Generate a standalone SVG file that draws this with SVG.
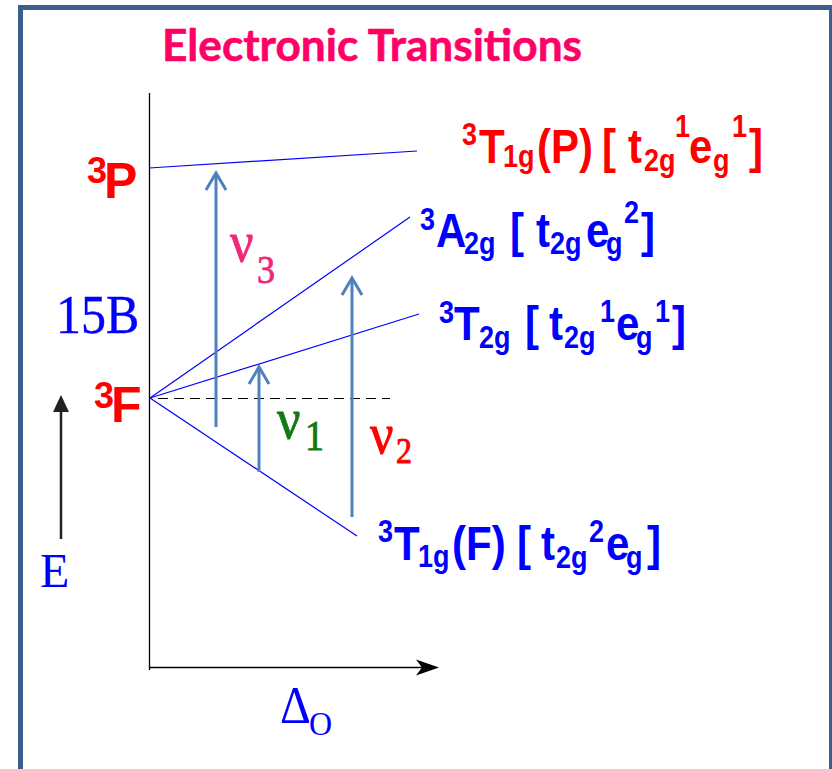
<svg xmlns="http://www.w3.org/2000/svg" width="832" height="769" viewBox="0 0 832 769">
<style>
.lab{font-family:"Liberation Sans",Arial,sans-serif;font-weight:bold}
.big{font-size:42px}
.sm{font-size:27px}
.ser{font-family:"Liberation Serif","Times New Roman",serif}
.lvl{stroke:#0000FF;stroke-width:1.2;fill:none}
.tr{stroke:#4F81BD;stroke-width:3;fill:none}
</style>
<defs>
<marker id="chev" markerUnits="userSpaceOnUse" viewBox="-20 -13 23 26" refX="0" refY="0" markerWidth="23" markerHeight="26" orient="auto">
<path d="M-17,-10 L0,0 L-17,10" fill="none" stroke="#4F81BD" stroke-width="3"/>
</marker>
</defs>
<rect x="0" y="0" width="832" height="769" fill="#FFFFFF"/>
<rect x="20.5" y="7.5" width="811" height="800" fill="#FFFFFF" stroke="#3B5E8C" stroke-width="5"/>
<g id="title">
<text x="162" y="61" font-family="Lato,'Open Sans',sans-serif" font-weight="bold" font-size="44" fill="#FF0066" textLength="420" lengthAdjust="spacingAndGlyphs" stroke="#FF0066" stroke-width="0.6">Electronic Transitions</text>
</g>
<g id="axes">
<line x1="149.5" y1="93" x2="149.5" y2="670" stroke="#000" stroke-width="1.3"/>
<line x1="149" y1="667.5" x2="425" y2="667.5" stroke="#000" stroke-width="1.5"/>
<path d="M439,667.5 L416,659.5 L422,667.5 L416,675.5 Z" fill="#000"/>
<line x1="61" y1="539" x2="61" y2="410" stroke="#222" stroke-width="2.5"/>
<path d="M61,395 L69,412 L53,412 Z" fill="#222"/>
</g>
<g id="connectors">
<line class="lvl" x1="149" y1="168" x2="417" y2="151"/>
<line class="lvl" x1="150" y1="398" x2="410" y2="217"/>
<line class="lvl" x1="150" y1="398" x2="419" y2="314"/>
<line class="lvl" x1="150" y1="398" x2="357" y2="536"/>
<line x1="158" y1="398.5" x2="390" y2="398.5" stroke="#000" stroke-width="1" stroke-dasharray="10 6"/>
<line class="tr" x1="216" y1="427" x2="216" y2="173" marker-end="url(#chev)"/>
<line class="tr" x1="259" y1="472" x2="259" y2="367" marker-end="url(#chev)"/>
<line class="tr" x1="352" y1="517" x2="352" y2="278" marker-end="url(#chev)"/>
</g>
<g id="label-3P">
<text class="lab" fill="#FF0000"><tspan x="87" y="183" font-size="36">3</tspan><tspan x="104" y="198" font-size="50">P</tspan></text>
</g>
<g id="label-3F">
<text class="lab" fill="#FF0000"><tspan x="94" y="408" font-size="36">3</tspan><tspan x="111" y="422" font-size="50">F</tspan></text>
</g>
<g id="label-15B">
<text class="ser" transform="translate(56,333) scale(1,1.1)" font-size="50" fill="#0000FF" stroke="#0000FF" stroke-width="0.4">15B</text>
</g>
<g id="label-E">
<text class="ser" x="40" y="587" font-size="48" fill="#0000FF">E</text>
</g>
<g id="label-delta">
<text class="ser" fill="#0000FF" transform="translate(0,723) scale(1,1.08)"><tspan x="280" y="0" font-size="48">Δ</tspan><tspan x="309" y="11" font-size="32">O</tspan></text>
</g>
<g id="label-nu3">
<text class="ser" fill="#F0287A" stroke="#F0287A" stroke-width="0.8" transform="translate(0,261) scale(1,1.1)"><tspan x="230" y="0" font-size="52">ν</tspan><tspan x="257" y="20" font-size="36">3</tspan></text>
</g>
<g id="label-nu1">
<text class="ser" fill="#137A13" stroke="#137A13" stroke-width="0.8" transform="translate(0,438) scale(1,1.1)"><tspan x="277" y="0" font-size="52">ν</tspan><tspan x="305" y="11" font-size="38">1</tspan></text>
</g>
<g id="label-nu2">
<text class="ser" fill="#FF0000" stroke="#FF0000" stroke-width="0.8" transform="translate(0,453) scale(1,1.1)"><tspan x="370" y="0" font-size="52">ν</tspan><tspan x="396" y="9" font-size="32">2</tspan></text>
</g>
<g id="state-T1gP">
<text class="lab" fill="#FF0000" transform="translate(0,163) scale(1,1.15)"><tspan class="sm" x="462" y="-15.7">3</tspan><tspan class="big" x="479" y="0">T</tspan><tspan class="sm" x="503" y="3.5">1g</tspan><tspan class="big" x="537" y="0">(P)</tspan><tspan class="big" x="602" y="0">[</tspan><tspan class="big" x="628" y="0">t</tspan><tspan class="sm" x="644" y="7">2g</tspan><tspan class="sm" x="675" y="-22.6">1</tspan><tspan class="big" x="689" y="0">e</tspan><tspan class="sm" x="713" y="7">g</tspan><tspan class="sm" x="732" y="-22.6">1</tspan><tspan class="big" x="749" y="0">]</tspan></text>
</g>
<g id="state-A2g">
<text class="lab" fill="#0000FF" transform="translate(0,247) scale(1,1.15)"><tspan class="sm" x="420" y="-14.8">3</tspan><tspan class="big" x="436" y="0">A</tspan><tspan class="sm" x="464" y="6">2g</tspan><tspan class="big" x="510" y="0">[</tspan><tspan class="big" x="536" y="0">t</tspan><tspan class="sm" x="550" y="6">2g</tspan><tspan class="big" x="586" y="0">e</tspan><tspan class="sm" x="606" y="6">g</tspan><tspan class="sm" x="624" y="-20.9">2</tspan><tspan class="big" x="641" y="0">]</tspan></text>
</g>
<g id="state-T2g">
<text class="lab" fill="#0000FF" transform="translate(0,340) scale(1,1.15)"><tspan class="sm" x="439" y="-14.8">3</tspan><tspan class="big" x="454" y="0">T</tspan><tspan class="sm" x="479" y="7">2g</tspan><tspan class="big" x="525" y="0">[</tspan><tspan class="big" x="549" y="0">t</tspan><tspan class="sm" x="564" y="7">2g</tspan><tspan class="sm" x="600" y="-15.7">1</tspan><tspan class="big" x="616" y="0">e</tspan><tspan class="sm" x="636" y="7">g</tspan><tspan class="sm" x="655" y="-15.7">1</tspan><tspan class="big" x="672" y="0">]</tspan></text>
</g>
<g id="state-T1gF">
<text class="lab" fill="#0000FF" transform="translate(0,560) scale(1,1.15)"><tspan class="sm" x="378" y="-15.7">3</tspan><tspan class="big" x="394" y="0">T</tspan><tspan class="sm" x="418" y="6">1g</tspan><tspan class="big" x="452" y="0">(F)</tspan><tspan class="big" x="517" y="0">[</tspan><tspan class="big" x="541" y="0">t</tspan><tspan class="sm" x="556" y="7">2g</tspan><tspan class="sm" x="589" y="-15.7">2</tspan><tspan class="big" x="606" y="0">e</tspan><tspan class="sm" x="626" y="7">g</tspan><tspan class="big" x="647" y="0">]</tspan></text>
</g>
</svg>
